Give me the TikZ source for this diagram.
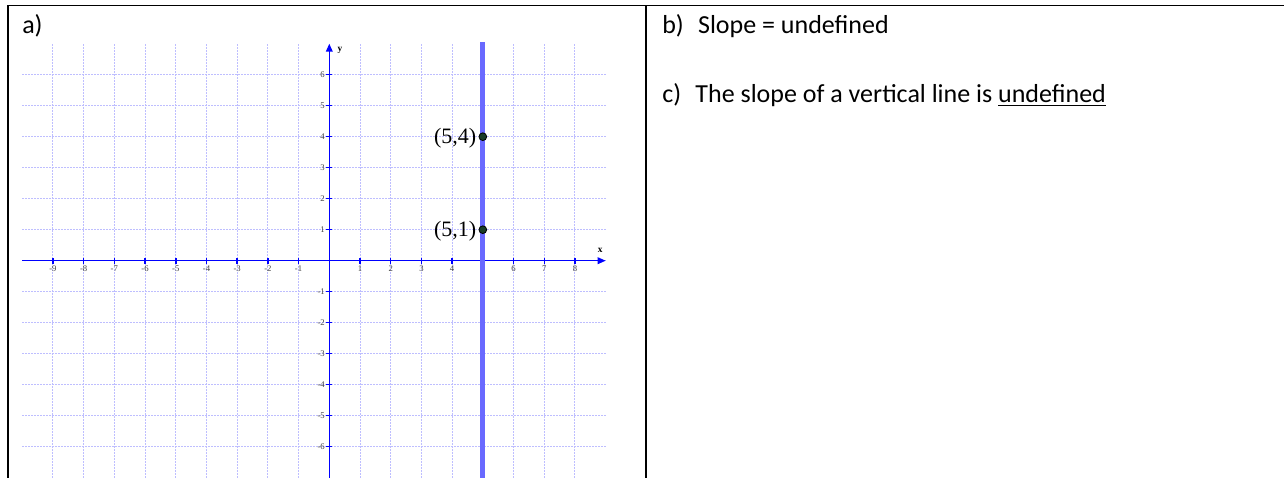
\documentclass[tikz,border=0pt]{standalone}
\usepackage{fontspec}
\setmainfont{Carlito}
\newfontfamily\plotfont{Liberation Serif}
\usetikzlibrary{arrows.meta}

\definecolor{darkdot}{RGB}{25,60,40}
\definecolor{vline}{RGB}{105,105,255}
\definecolor{gridblue}{RGB}{190,190,255}

\tikzset{
    gridline/.style={draw=gridblue, line width=0.7pt, dash pattern=on 1.5pt off 0.75pt},
    axisline/.style={draw=blue, line width=1.1pt},
    axistip/.style={-{Triangle[length=6pt,width=5pt]}},
    ticklabel/.style={font=\plotfont\fontsize{6.5}{7}\selectfont, text=black!75, inner sep=0pt},
    axislabel/.style={font=\plotfont\bfseries\fontsize{7}{8}\selectfont, inner sep=0pt},
    ptlabel/.style={font=\plotfont\fontsize{16.5}{18}\selectfont, inner sep=0pt, anchor=east},
    dotpt/.style={circle, draw=black, fill=darkdot, minimum size=5.8pt, inner sep=0pt, line width=0.6pt},
    celltext/.style={font=\fontsize{19.5}{23}\selectfont, anchor=base west, inner sep=0pt},
}

\begin{document}
\begin{tikzpicture}[x=0.75pt, y=-0.75pt]
    \useasboundingbox (0,0) rectangle (1284,478);

    % table rules
    \draw[line width=1.3pt] (7,5.5) -- (1284,5.5);
    \draw[line width=1.3pt] (8,5.5) -- (8,478);
    \draw[line width=1.3pt] (646,5.5) -- (646,478);

    % cell texts
    \node[celltext] (parta) at (22,34) {a)};
    \node[celltext] (partb) at (662,34) {b)\hspace{0.55em}Slope = undefined};
    \node[celltext] (partc) at (662,103) {c)\hspace{0.55em}The slope of a vertical line is \underline{undefined}};

    % coordinate plane
    \coordinate (O) at (329.3,260.7);
    \begin{scope}[shift={(O)}, x=23.03pt, y=23.25pt]
        % grid
        \foreach \k in {-6,...,6} \draw[gridline] (-10,\k) -- (9,\k);
        \foreach \k in {-9,...,8} \draw[gridline] (\k,-7) -- (\k,7);

        % axes
        \coordinate (xstart) at (-10,0);
        \coordinate (xend) at (9,0);
        \coordinate (ystart) at (0,-7);
        \coordinate (yend) at (0,7);
        \draw[axisline, axistip] (xstart) -- (xend);
        \draw[axisline, axistip] (ystart) -- (yend);
        \node[axislabel] (xlab) at (8.82,0.33) {x};
        \node[axislabel] (ylab) at (0.35,6.77) {y};

        % ticks and numbers
        \foreach \k in {-9,...,-1,1,2,...,8} {
            \draw[axisline] (\k,-0.1) -- (\k,0.1);
        }
        \foreach \k in {-9,...,-1,1,2,3,4,6,7,8} {
            \node[ticklabel] (xt\k) at (\k,-0.27) {\k};
        }
        \foreach \k in {-6,...,-1,1,2,...,6} {
            \draw[axisline] (-0.1,\k) -- (0.1,\k);
            \node[ticklabel, anchor=east] (yt\k) at (-0.14,\k) {\k};
        }

        % vertical line x = 5
        \coordinate (vbot) at (5,-7);
        \coordinate (vtop) at (5,7.05);
        \draw[vline, line width=3.75pt] (vbot) -- (vtop);

        % points
        \node[dotpt] (pone) at (5,1) {};
        \node[dotpt] (pfour) at (5,4) {};
        \node[ptlabel] (lone) at ([xshift=-1.6pt, yshift=-1.2pt]pone.west) {(5,1)};
        \node[ptlabel] (lfour) at ([xshift=-1.6pt, yshift=-1.2pt]pfour.west) {(5,4)};
    \end{scope}
\end{tikzpicture}
\end{document}
